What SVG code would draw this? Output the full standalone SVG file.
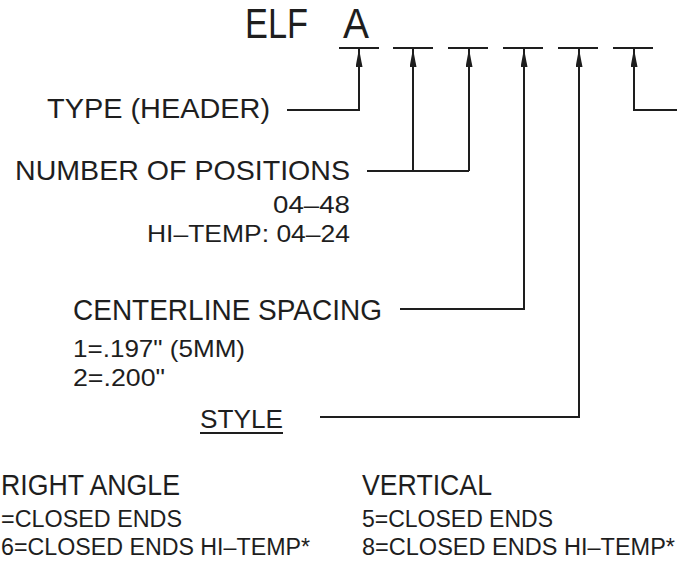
<svg xmlns="http://www.w3.org/2000/svg" width="677" height="563" viewBox="0 0 677 563">
<style>
text{font-family:"Liberation Sans","DejaVu Sans",sans-serif;fill:#1e1e1e;}
.ln{fill:none;stroke:#1e1e1e;stroke-width:2;}
.ul{stroke:#1e1e1e;stroke-width:2;}
</style>
<defs>
<marker id="ah" viewBox="0 0 18 7" refX="18" refY="3.5" markerWidth="18" markerHeight="7" markerUnits="userSpaceOnUse" orient="auto">
<path d="M0,0 L18,3.5 L0,7 Z" fill="#1e1e1e"/>
</marker>
</defs>
<rect width="677" height="563" fill="#fff"/>
<g id="title">
<text x="245" y="38" font-size="42" textLength="63" lengthAdjust="spacingAndGlyphs">ELF</text>
<text x="343" y="38" font-size="42" textLength="26" lengthAdjust="spacingAndGlyphs">A</text>
</g>
<g id="blanks">
<line class="ul" x1="339" y1="48" x2="379" y2="48"/>
<line class="ul" x1="393" y1="48" x2="433" y2="48"/>
<line class="ul" x1="448" y1="48" x2="488" y2="48"/>
<line class="ul" x1="503" y1="48" x2="543" y2="48"/>
<line class="ul" x1="558" y1="48" x2="598" y2="48"/>
<line class="ul" x1="613" y1="48" x2="653" y2="48"/>
</g>
<g id="type">
<text x="47" y="118" font-size="28" textLength="223" lengthAdjust="spacingAndGlyphs">TYPE (HEADER)</text>
</g>
<g id="positions">
<text x="15" y="180" font-size="28" textLength="335" lengthAdjust="spacingAndGlyphs">NUMBER OF POSITIONS</text>
<text x="273" y="213" font-size="24" textLength="77" lengthAdjust="spacingAndGlyphs">04–48</text>
<text x="147" y="242" font-size="24" textLength="203" lengthAdjust="spacingAndGlyphs">HI–TEMP: 04–24</text>
</g>
<g id="spacing">
<text x="73" y="320" font-size="30" textLength="309" lengthAdjust="spacingAndGlyphs">CENTERLINE SPACING</text>
<text x="73" y="357" font-size="24" textLength="172" lengthAdjust="spacingAndGlyphs">1=.197" (5MM)</text>
<text x="73" y="386" font-size="24" textLength="92" lengthAdjust="spacingAndGlyphs">2=.200"</text>
</g>
<g id="style">
<text x="200" y="428" font-size="25" textLength="83" lengthAdjust="spacingAndGlyphs">STYLE</text>
<line class="ul" x1="200" y1="433" x2="283" y2="433"/>
</g>
<g id="rightangle">
<text x="1" y="495" font-size="30" textLength="179" lengthAdjust="spacingAndGlyphs">RIGHT ANGLE</text>
<text x="1" y="527" font-size="23" textLength="181" lengthAdjust="spacingAndGlyphs">=CLOSED ENDS</text>
<text x="1" y="555" font-size="23" textLength="309" lengthAdjust="spacingAndGlyphs">6=CLOSED ENDS HI–TEMP*</text>
</g>
<g id="vertical">
<text x="362" y="495" font-size="30" textLength="130" lengthAdjust="spacingAndGlyphs">VERTICAL</text>
<text x="362" y="527" font-size="23" textLength="191" lengthAdjust="spacingAndGlyphs">5=CLOSED ENDS</text>
<text x="362" y="555" font-size="23" textLength="313" lengthAdjust="spacingAndGlyphs">8=CLOSED ENDS HI–TEMP*</text>
</g>
<g id="connectors">
<path class="ln" d="M287,110 H359 V49" marker-end="url(#ah)"/>
<path class="ln" d="M367,171 H469"/>
<path class="ln" d="M413,171 V49" marker-end="url(#ah)"/>
<path class="ln" d="M469,171 V49" marker-end="url(#ah)"/>
<path class="ln" d="M400,309 H524 V49" marker-end="url(#ah)"/>
<path class="ln" d="M320,417 H579 V49" marker-end="url(#ah)"/>
<path class="ln" d="M677,110 H634 V49" marker-end="url(#ah)"/>
</g>
</svg>
